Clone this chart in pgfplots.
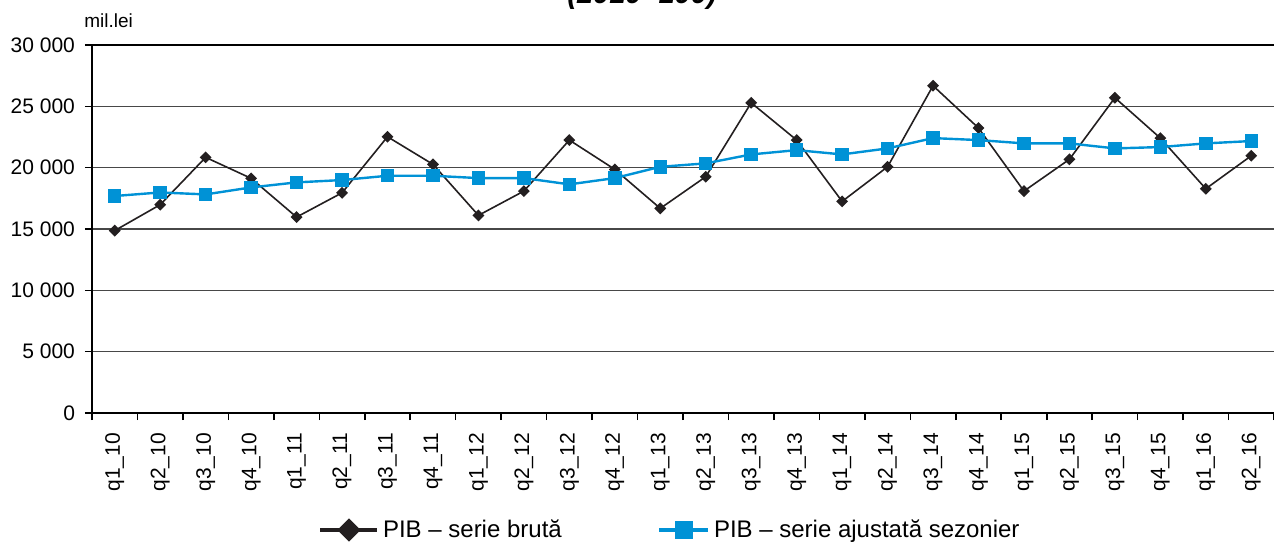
\documentclass[border=0pt]{standalone}
\usepackage{fontspec}
\setmainfont{Liberation Sans}
\usepackage{pgfplots}
\pgfplotsset{compat=1.18}
\definecolor{pibblue}{RGB}{0,146,214}
\definecolor{pibblack}{RGB}{35,31,32}
\begin{document}
\begin{tikzpicture}
\begin{axis}[
  name=ax, at={(0,0)}, anchor=south west,
  scale only axis, width=591pt, height=184pt,
  xmin=-0.5, xmax=25.5, ymin=0, ymax=30000,
  axis x line*=bottom, axis y line*=left,
  axis line style={line width=0.9pt, black, -},
  tick align=outside,
  major tick length=0pt, minor tick length=3.5pt,
  tick style={black, line width=0.8pt},
  xtick={0,...,25},
  minor xtick={-0.5,0.5,...,25.5},
  xticklabels={q1\_10,q2\_10,q3\_10,q4\_10,q1\_11,q2\_11,q3\_11,q4\_11,q1\_12,q2\_12,q3\_12,q4\_12,q1\_13,q2\_13,q3\_13,q4\_13,q1\_14,q2\_14,q3\_14,q4\_14,q1\_15,q2\_15,q3\_15,q4\_15,q1\_16,q2\_16},
  xticklabel style={rotate=90, anchor=east, font=\fontsize{10.5}{12}\selectfont},
  xticklabel shift=6.5pt,
  ytick={0,5000,...,30000},
  minor ytick={0,5000,...,30000},
  yticklabel shift=5pt,
  ymajorgrids,
  grid style={black!72, line width=0.7pt},
  yticklabel style={font=\fontsize{10.5}{12}\selectfont},
  scaled y ticks=false,
  /pgf/number format/1000 sep={\ },
  /pgf/number format/assume math mode=true,
  clip=false,
  legend style={at={(rel axis cs:0.49,-0.318)}, anchor=center, draw=none,
    font=\fontsize{12}{14}\selectfont,
    /tikz/every even column/.append style={column sep=46pt}},
  legend columns=2,
  legend cell align=left,
]
\addplot[pibblack, line width=0.8pt, mark=square*, mark size=1.7pt,
  mark options={rotate=45, fill=pibblack, draw=pibblack},
  legend image code/.code={\draw[pibblack, line width=1.6pt, mark=square*, mark size=3.3pt,
    mark options={rotate=45, fill=pibblack, draw=pibblack}, mark repeat=2, mark phase=2]
    plot coordinates {(-6pt,0pt) (8.25pt,0pt) (22.5pt,0pt)};}]
coordinates {
(0,14870) (1,16980) (2,20840) (3,19130) (4,15970) (5,17950) (6,22520) (7,20270)
(8,16110) (9,18090) (10,22250) (11,19860) (12,16680) (13,19260) (14,25290) (15,22250)
(16,17250) (17,20070) (18,26680) (19,23230) (20,18090) (21,20680) (22,25700) (23,22410)
(24,18280) (25,20970)
};
\addlegendentry{PIB -- serie brută}
\addplot[pibblue, line width=1.2pt, mark=square*, mark size=2.75pt,
  mark options={fill=pibblue, draw=pibblue},
  legend image code/.code={\draw[pibblue, line width=1.6pt, mark=square*, mark size=3.8pt,
    mark options={fill=pibblue, draw=pibblue}, mark repeat=2, mark phase=2]
    plot coordinates {(-2pt,0pt) (10.25pt,0pt) (22.5pt,0pt)};}]
coordinates {
(0,17690) (1,17980) (2,17820) (3,18390) (4,18800) (5,18990) (6,19340) (7,19340)
(8,19150) (9,19150) (10,18640) (11,19150) (12,20070) (13,20350) (14,21080) (15,21430)
(16,21080) (17,21570) (18,22410) (19,22250) (20,21980) (21,21980) (22,21570) (23,21680)
(24,21980) (25,22170)
};
\addlegendentry{PIB -- serie ajustată sezonier}
\end{axis}
\draw[black, line width=1pt] (0pt,184pt) -- (591pt,184pt);
\node[anchor=base west, inner sep=0pt, font=\fontsize{9.5}{11}\selectfont] at (-4pt,192.5pt) {mil.lei};
\node[anchor=base, inner sep=0pt, font=\fontsize{14.5}{17}\selectfont\bfseries\itshape] at (275pt,204.5pt) {(2010=100)};
\pgfresetboundingbox
\useasboundingbox (-46pt,-64pt) rectangle (591pt,206.5pt);
\end{tikzpicture}
\end{document}
